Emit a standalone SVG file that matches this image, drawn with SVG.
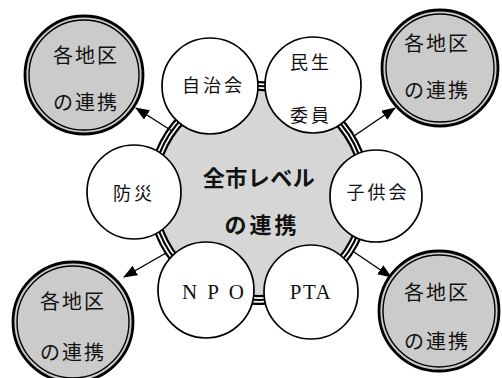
<svg xmlns="http://www.w3.org/2000/svg" width="502" height="378" viewBox="0 0 502 378">
<defs>
<style>
.jp{font-family:"Noto Sans CJK JP","Noto Sans",sans-serif;fill:#111;text-anchor:middle}
.small{font-size:18px;letter-spacing:3px}
.outer{font-size:20px;letter-spacing:2px}
.center{font-size:22px;font-weight:bold}
.serif{font-family:"Liberation Serif",serif;font-size:21px;fill:#111;text-anchor:middle}
.node{fill:#fff;stroke:#000;stroke-width:1.7}
.ofill{fill:#cbcbcb;stroke:#000;stroke-width:2.8}
.oinner{fill:none;stroke:#000;stroke-width:1.4}
.arrow{stroke:#000;stroke-width:1.4;fill:none}
</style>
<marker id="ah" markerWidth="14" markerHeight="11" refX="13" refY="5.5" orient="auto" markerUnits="userSpaceOnUse">
<path d="M0,0 L14,5.5 L0,11 Z" fill="#000"/>
</marker>
</defs>
<rect width="502" height="378" fill="#fff"/>

<g id="center">
<circle cx="259" cy="193" r="107" fill="#d6d6d6" stroke="#000" stroke-width="10"/>
<circle cx="259" cy="193" r="107" fill="none" stroke="#fff" stroke-width="5.5"/>
<circle cx="259" cy="193" r="107" fill="none" stroke="#000" stroke-width="2.2"/>
<text class="jp center" x="259" y="186" letter-spacing="0.5">全市レベル</text>
<text class="jp center" x="262" y="233" letter-spacing="3">の連携</text>
</g>

<g id="connectors">
<line class="arrow" x1="172" y1="131" x2="136" y2="108" marker-end="url(#ah)"/>
<line class="arrow" x1="354" y1="136" x2="395" y2="108" marker-end="url(#ah)"/>
<line class="arrow" x1="166" y1="253" x2="124" y2="277" marker-end="url(#ah)"/>
<line class="arrow" x1="354" y1="252" x2="391" y2="277" marker-end="url(#ah)"/>
</g>

<g id="jichikai">
<circle class="node" cx="210" cy="86" r="48"/>
<text class="jp small" x="213.5" y="92">自治会</text>
</g>
<g id="minsei">
<circle class="node" cx="313" cy="85" r="48"/>
<text class="jp small" x="311" y="69" letter-spacing="5">民生</text>
<text class="jp small" x="311" y="122" letter-spacing="5">委員</text>
</g>
<g id="kodomokai">
<circle class="node" cx="376" cy="196" r="46"/>
<text class="jp small" x="378" y="199" letter-spacing="4">子供会</text>
</g>
<g id="bousai">
<circle class="node" cx="134" cy="192" r="47"/>
<text class="jp small" x="134" y="200" letter-spacing="4">防災</text>
</g>
<g id="npo">
<circle class="node" cx="206" cy="290" r="48"/>
<text class="serif" x="218" y="299" letter-spacing="10">NPO</text>
</g>
<g id="pta">
<circle class="node" cx="311" cy="292" r="47"/>
<text class="serif" x="311" y="299" letter-spacing="1.5">PTA</text>
</g>

<g id="region-ul">
<circle class="ofill" cx="84" cy="75" r="59"/>
<circle class="oinner" cx="84" cy="75" r="55"/>
<text class="jp outer" x="86" y="63">各地区</text>
<text class="jp outer" x="86" y="110">の連携</text>
</g>
<g id="region-ur">
<circle class="ofill" cx="440" cy="68" r="58"/>
<circle class="oinner" cx="440" cy="68" r="54"/>
<text class="jp outer" x="437" y="51">各地区</text>
<text class="jp outer" x="437" y="98">の連携</text>
</g>
<g id="region-ll">
<circle class="ofill" cx="73" cy="322" r="60"/>
<circle class="oinner" cx="73" cy="322" r="56"/>
<text class="jp outer" x="73" y="309">各地区</text>
<text class="jp outer" x="73" y="360">の連携</text>
</g>
<g id="region-lr">
<circle class="ofill" cx="439" cy="311" r="60"/>
<circle class="oinner" cx="439" cy="311" r="56"/>
<text class="jp outer" x="437" y="300">各地区</text>
<text class="jp outer" x="437" y="349">の連携</text>
</g>
</svg>
